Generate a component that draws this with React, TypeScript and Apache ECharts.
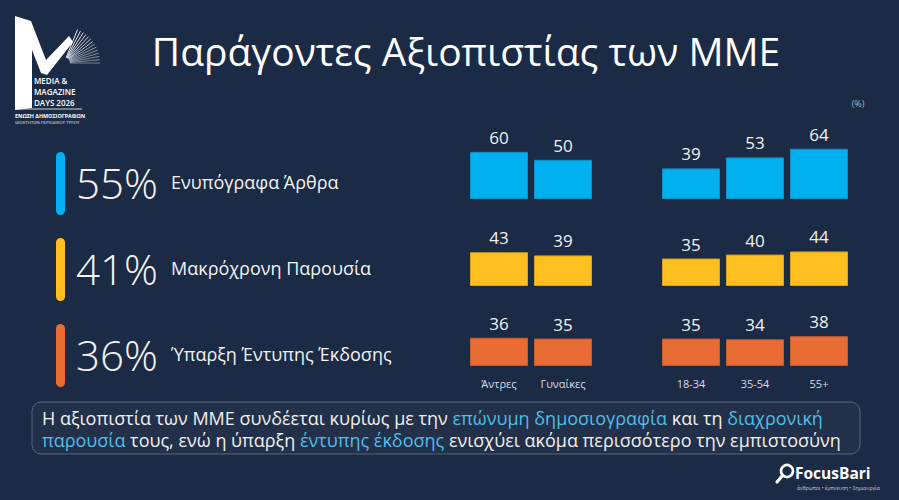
import React, { useEffect, useRef } from 'react';
import * as echarts from 'echarts';

// ---- data ----
const title = 'Παράγοντες Αξιοπιστίας των ΜΜΕ';
const factors = ['Ενυπόγραφα Άρθρα', 'Μακρόχρονη Παρουσία', 'Ύπαρξη Έντυπης Έκδοσης'];
const totals = [55, 41, 36];
const genderCats = ['Άντρες', 'Γυναίκες'];
const ageCats = ['18-34', '35-54', '55+'];
const genderValues = [
  [60, 50],
  [43, 39],
  [36, 35],
];
const ageValues = [
  [39, 53, 64],
  [35, 40, 44],
  [35, 34, 38],
];
const unitLabel = '(%)';
const noteLine1: [string, boolean][] = [
  ['Η αξιοπιστία των ΜΜΕ συνδέεται κυρίως με την ', false],
  ['επώνυμη δημοσιογραφία', true],
  [' και τη ', false],
  ['διαχρονική', true],
];
const noteLine2: [string, boolean][] = [
  ['παρουσία', true],
  [' τους, ενώ η ύπαρξη ', false],
  ['έντυπης έκδοσης', true],
  [' ενισχύει ακόμα περισσότερο την εμπιστοσύνη', false],
];

// ---- styling ----
const BG = '#1b2a45';
const rowColors = ['#00b0f0', '#ffc01f', '#e86c34'];
const rowBorders = ['#0a93c8', '#d9a21a', '#c85a2a'];
const FONT = '"Open Sans", "Noto Sans", sans-serif';
const baselines = [199, 286, 366];
const Y_MAX = 80;
const PLOT_H = 62.8;

function richLine(parts: [string, boolean][]) {
  return parts.map(([t, h]) => `{${h ? 'h' : 'n'}|${t}}`).join('');
}

export default function App() {
  const ref = useRef<HTMLDivElement>(null);

  useEffect(() => {
    if (!ref.current) return;
    const chart = echarts.init(ref.current, undefined, { renderer: 'svg' });

    const grids: any[] = [];
    const xAxes: any[] = [];
    const yAxes: any[] = [];
    const series: any[] = [];

    baselines.forEach((b, r) => {
      const groups = [
        { cats: genderCats, vals: genderValues[r], left: 467, width: 128 },
        { cats: ageCats, vals: ageValues[r], left: 659, width: 192 },
      ];
      groups.forEach((g) => {
        const idx = grids.length;
        grids.push({ left: g.left, width: g.width, top: b - PLOT_H, height: PLOT_H, outerBoundsMode: 'none' });
        xAxes.push({
          type: 'category',
          gridIndex: idx,
          data: g.cats,
          axisLine: { show: false },
          axisTick: { show: false },
          axisLabel: {
            show: r === 2,
            color: '#d9dde4',
            fontSize: 11,
            fontFamily: FONT,
            margin: 12,
          },
        });
        yAxes.push({ type: 'value', gridIndex: idx, min: 0, max: Y_MAX, show: false, splitLine: { show: false } });
        series.push({
          type: 'bar',
          xAxisIndex: idx,
          yAxisIndex: idx,
          data: g.vals,
          barWidth: 58,
          itemStyle: { color: rowColors[r], borderColor: rowBorders[r], borderWidth: 1 },
          label: {
            show: true,
            position: 'top',
            distance: 6,
            color: '#f2f2f2',
            fontSize: 17,
            fontFamily: FONT,
          },
        });
      });
    });

    const graphic: any[] = [];

    // title
    graphic.push({
      type: 'text',
      x: 466,
      y: 50,
      style: { text: title, fill: '#ffffff', fontSize: 39, fontFamily: FONT, fontWeight: 400, align: 'center', verticalAlign: 'middle' },
    });

    // unit
    graphic.push({
      type: 'text',
      x: 858,
      y: 103,
      style: { text: unitLabel, fill: '#aab2bf', fontSize: 9, fontFamily: FONT, align: 'center', verticalAlign: 'middle' },
    });

    // left summary rows
    const rowCenters = [182, 268, 354];
    rowCenters.forEach((c, r) => {
      graphic.push({
        type: 'rect',
        shape: { x: 56, y: c - 30, width: 9, height: 63, r: 4.5 },
        style: { fill: rowColors[r] },
      });
      graphic.push({
        type: 'text',
        x: 76,
        y: c,
        style: { text: `${totals[r]}%`, fill: '#f2f2f2', fontSize: 42, fontFamily: FONT, fontWeight: 300, align: 'left', verticalAlign: 'middle' },
      });
      graphic.push({
        type: 'text',
        x: 171,
        y: c,
        style: { text: factors[r], fill: '#f2f2f2', fontSize: 18, fontFamily: FONT, align: 'left', verticalAlign: 'middle' },
      });
    });

    // note box
    graphic.push({
      type: 'rect',
      shape: { x: 32, y: 402, width: 828, height: 52, r: 9 },
      style: { fill: 'rgba(255,255,255,0.03)', stroke: '#56667f', lineWidth: 1 },
    });
    const rich = {
      n: { fill: '#f0f0f0', color: '#f0f0f0', fontSize: 18, fontFamily: FONT },
      h: { fill: '#52bde8', color: '#52bde8', fontSize: 18, fontFamily: FONT },
    };
    [noteLine1, noteLine2].forEach((line, i) => {
      graphic.push({
        type: 'text',
        x: 42,
        y: 418 + i * 22,
        style: { text: richLine(line), rich, fontSize: 18, fontFamily: FONT, align: 'left', verticalAlign: 'middle' },
      });
    });

    // event logo (top-left)
    graphic.push({
      type: 'polygon',
      shape: {
        points: [
          [15, 16], [31, 21], [46, 60], [69, 36], [73, 42], [47, 75], [41, 73], [32, 50], [32, 108], [15, 110],
        ],
      },
      style: { fill: '#ffffff' },
    });
    const fanOrigin = [64, 63];
    const fanCount = 14;
    for (let i = 0; i < fanCount; i++) {
      const a = (-68 + (68 * i) / (fanCount - 1)) * (Math.PI / 180);
      const r0 = 6;
      const r1 = 36;
      graphic.push({
        type: 'line',
        shape: {
          x1: fanOrigin[0] + r0 * Math.cos(a),
          y1: fanOrigin[1] + r0 * Math.sin(a),
          x2: fanOrigin[0] + r1 * Math.cos(a),
          y2: fanOrigin[1] + r1 * Math.sin(a),
        },
        style: { stroke: i < 7 ? '#ffffff' : '#c9ced6', lineWidth: 0.9, opacity: 1 - i * 0.03 },
      });
    }
    ['MEDIA &', 'MAGAZINE', 'DAYS 2026'].forEach((t, i) => {
      graphic.push({
        type: 'text',
        x: 34,
        y: 80.5 + i * 10.8,
        style: { text: t, fill: '#ffffff', fontSize: 8, fontWeight: 600, fontFamily: FONT, align: 'left', verticalAlign: 'middle' },
      });
    });
    graphic.push({ type: 'line', shape: { x1: 15, y1: 109, x2: 82, y2: 109 }, style: { stroke: '#ffffff', lineWidth: 0.8 } });
    graphic.push({
      type: 'text',
      x: 15,
      y: 115.5,
      style: { text: 'ΕΝΩΣΗ ΔΗΜΟΣΙΟΓΡΑΦΩΝ', fill: '#ffffff', fontSize: 5.4, fontWeight: 700, fontFamily: FONT, align: 'left', verticalAlign: 'middle' },
    });
    graphic.push({
      type: 'text',
      x: 15,
      y: 122.5,
      style: { text: 'ΙΔΙΟΚΤΗΤΩΝ ΠΕΡΙΟΔΙΚΟΥ ΤΥΠΟΥ', fill: '#e6e9ee', fontSize: 4.2, fontFamily: FONT, align: 'left', verticalAlign: 'middle' },
    });

    // FocusBari logo (bottom-right)
    graphic.push({
      type: 'circle',
      shape: { cx: 787, cy: 471, r: 6 },
      style: { fill: 'none', stroke: '#ffffff', lineWidth: 2.6 },
    });
    graphic.push({
      type: 'line',
      shape: { x1: 782.5, y1: 475.5, x2: 777, y2: 482 },
      style: { stroke: '#ffffff', lineWidth: 3.2, lineCap: 'round' },
    });
    graphic.push({
      type: 'text',
      x: 795,
      y: 473,
      style: { text: 'FocusBari', fill: '#ffffff', fontSize: 15.5, fontWeight: 700, fontFamily: FONT, align: 'left', verticalAlign: 'middle' },
    });
    graphic.push({
      type: 'text',
      x: 797,
      y: 488,
      style: { text: 'άνθρωποι • έμπνευση • δημιουργία', fill: '#c9d0da', fontSize: 5, fontFamily: FONT, align: 'left', verticalAlign: 'middle' },
    });

    chart.setOption({
      animation: false,
      backgroundColor: BG,
      grid: grids,
      xAxis: xAxes,
      yAxis: yAxes,
      series,
      graphic,
    });

    return () => chart.dispose();
  }, []);

  return (
    <div
      ref={ref}
      style={{ position: 'fixed', left: 0, top: 0, width: 899, height: 500, background: BG }}
    />
  );
}
